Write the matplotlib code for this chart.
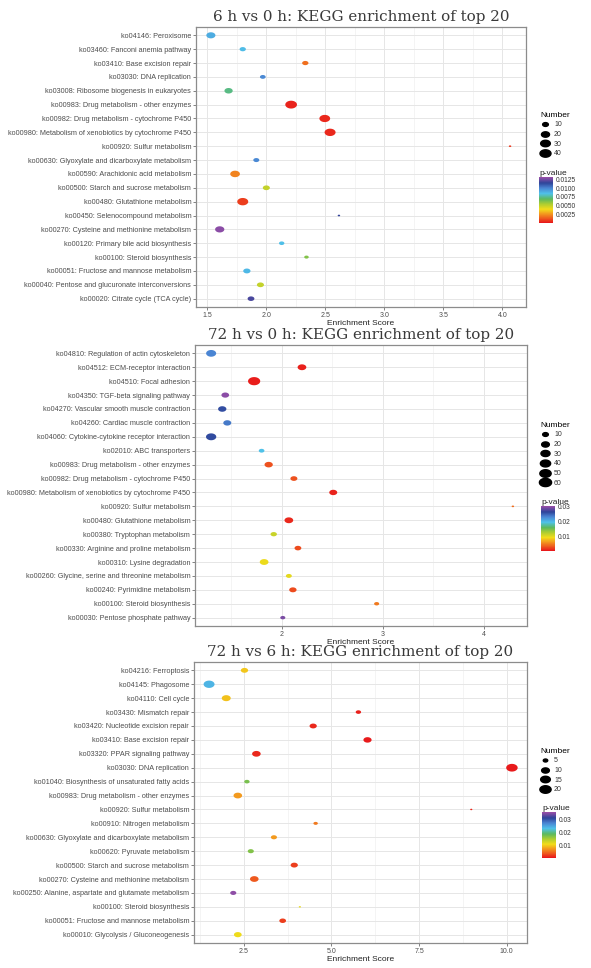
import numpy as np
import matplotlib
matplotlib.use('Agg')
import matplotlib.pyplot as plt
from matplotlib.colors import LinearSegmentedColormap, Normalize
from matplotlib.path import Path
from matplotlib.lines import Line2D
from matplotlib.cm import ScalarMappable

W, H = 591, 968

# ---------------- data ----------------
p1_title = "6 h vs 0 h: KEGG enrichment of top 20"
p1_terms = ["ko04146: Peroxisome", "ko03460: Fanconi anemia pathway", "ko03410: Base excision repair",
            "ko03030: DNA replication", "ko03008: Ribosome biogenesis in eukaryotes",
            "ko00983: Drug metabolism - other enzymes", "ko00982: Drug metabolism - cytochrome P450",
            "ko00980: Metabolism of xenobiotics by cytochrome P450", "ko00920: Sulfur metabolism",
            "ko00630: Glyoxylate and dicarboxylate metabolism", "ko00590: Arachidonic acid metabolism",
            "ko00500: Starch and sucrose metabolism", "ko00480: Glutathione metabolism",
            "ko00450: Selenocompound metabolism", "ko00270: Cysteine and methionine metabolism",
            "ko00120: Primary bile acid biosynthesis", "ko00100: Steroid biosynthesis",
            "ko00051: Fructose and mannose metabolism", "ko00040: Pentose and glucuronate interconversions",
            "ko00020: Citrate cycle (TCA cycle)"]
p1_score = [1.53, 1.80, 2.33, 1.97, 1.68, 2.21, 2.495, 2.54, 4.065, 1.915,
            1.735, 2.00, 1.80, 2.615, 1.605, 2.13, 2.34, 1.835, 1.95, 1.87]
p1_number = [26, 12, 12, 10, 21, 46, 38, 40, 5, 11,
             30, 15, 40, 5, 27, 9, 7, 16, 15, 14]
p1_pvalue = [0.0090, 0.0086, 0.0018, 0.0099, 0.0073, 0.0003, 0.0004, 0.0004, 0.0007, 0.0099,
             0.0022, 0.0050, 0.0008, 0.0116, 0.0129, 0.0085, 0.0062, 0.0087, 0.0050, 0.0119]
p1_xticks = [1.5, 2.0, 2.5, 3.0, 3.5, 4.0]
p1_xticklabels = ["1.5", "2.0", "2.5", "3.0", "3.5", "4.0"]
p1_size_breaks = [10, 20, 30, 40]
p1_p_breaks = [0.0025, 0.0050, 0.0075, 0.0100, 0.0125]
p1_p_labels = ["0.0025", "0.0050", "0.0075", "0.0100", "0.0125"]

p2_title = "72 h vs 0 h: KEGG enrichment of top 20"
p2_terms = ["ko04810: Regulation of actin cytoskeleton", "ko04512: ECM-receptor interaction",
            "ko04510: Focal adhesion", "ko04350: TGF-beta signaling pathway",
            "ko04270: Vascular smooth muscle contraction", "ko04260: Cardiac muscle contraction",
            "ko04060: Cytokine-cytokine receptor interaction", "ko02010: ABC transporters",
            "ko00983: Drug metabolism - other enzymes", "ko00982: Drug metabolism - cytochrome P450",
            "ko00980: Metabolism of xenobiotics by cytochrome P450", "ko00920: Sulfur metabolism",
            "ko00480: Glutathione metabolism", "ko00380: Tryptophan metabolism",
            "ko00330: Arginine and proline metabolism", "ko00310: Lysine degradation",
            "ko00260: Glycine, serine and threonine metabolism", "ko00240: Pyrimidine metabolism",
            "ko00100: Steroid biosynthesis", "ko00030: Pentose phosphate pathway"]
p2_score = [1.30, 2.20, 1.726, 1.44, 1.41, 1.46, 1.30, 1.80, 1.87, 2.12,
            2.51, 4.29, 2.07, 1.92, 2.16, 1.825, 2.07, 2.11, 2.94, 2.01]
p2_number = [38, 27, 60, 20, 24, 22, 40, 10, 24, 16,
             22, 4, 27, 13, 15, 27, 11, 18, 8, 8]
p2_pvalue = [0.0232, 0.0005, 0.0004, 0.0299, 0.0260, 0.0238, 0.0262, 0.0195, 0.0027, 0.0027,
             0.0006, 0.0040, 0.0009, 0.0113, 0.0024, 0.0095, 0.0098, 0.0024, 0.0046, 0.0293]
p2_xticks = [2, 3, 4]
p2_xticklabels = ["2", "3", "4"]
p2_size_breaks = [10, 20, 30, 40, 50, 60]
p2_p_breaks = [0.01, 0.02, 0.03]
p2_p_labels = ["0.01", "0.02", "0.03"]

p3_title = "72 h vs 6 h: KEGG enrichment of top 20"
p3_terms = ["ko04216: Ferroptosis", "ko04145: Phagosome", "ko04110: Cell cycle",
            "ko03430: Mismatch repair", "ko03420: Nucleotide excision repair",
            "ko03410: Base excision repair", "ko03320: PPAR signaling pathway",
            "ko03030: DNA replication", "ko01040: Biosynthesis of unsaturated fatty acids",
            "ko00983: Drug metabolism - other enzymes", "ko00920: Sulfur metabolism",
            "ko00910: Nitrogen metabolism", "ko00630: Glyoxylate and dicarboxylate metabolism",
            "ko00620: Pyruvate metabolism", "ko00500: Starch and sucrose metabolism",
            "ko00270: Cysteine and methionine metabolism",
            "ko00250: Alanine, aspartate and glutamate metabolism",
            "ko00100: Steroid biosynthesis", "ko00051: Fructose and mannose metabolism",
            "ko00010: Glycolysis / Gluconeogenesis"]
p3_score = [2.52, 1.51, 2.00, 5.77, 4.48, 6.03, 2.86, 10.15, 2.59, 2.33,
            8.99, 4.55, 3.36, 2.70, 3.94, 2.80, 2.20, 4.10, 3.61, 2.33]
p3_number = [9, 19, 13, 6, 9, 11, 12, 21, 6, 12,
             4, 5, 7, 7, 9, 12, 7, 4, 8, 10]
p3_pvalue = [0.0097, 0.0240, 0.0094, 0.0007, 0.0010, 0.0004, 0.0010, 0.0004, 0.0173, 0.0072,
             0.0010, 0.0054, 0.0072, 0.0169, 0.0022, 0.0036, 0.0353, 0.0115, 0.0022, 0.0110]
p3_xticks = [2.5, 5.0, 7.5, 10.0]
p3_xticklabels = ["2.5", "5.0", "7.5", "10.0"]
p3_size_breaks = [5, 10, 15, 20]
p3_p_breaks = [0.01, 0.02, 0.03]
p3_p_labels = ["0.01", "0.02", "0.03"]

# ---------------- style ----------------
plt.rcParams['font.family'] = ['Liberation Sans', 'DejaVu Sans']

cmap = LinearSegmentedColormap.from_list('pv', [
    (0.00, '#E8151B'), (0.10, '#EE5A1E'), (0.20, '#F39A1E'), (0.30, '#F2DC1A'),
    (0.42, '#A8CC34'), (0.52, '#5DB95E'), (0.64, '#4FC1E9'), (0.76, '#4A85D3'),
    (0.87, '#2E4499'), (1.00, '#9B4FA8')])

theta = np.linspace(0, 2 * np.pi, 64)
ell = Path(np.column_stack([np.cos(theta), 0.67 * np.sin(theta)]), closed=True)

fig = plt.figure(figsize=(W / 100, H / 100), dpi=100)
fig.patch.set_facecolor('white')


def box(l, t, r, b):
    return [l / W, 1 - b / H, (r - l) / W, (b - t) / H]


def diam(vals, lo, hi, r0, r1):
    v = np.clip((np.asarray(vals, float) - lo) / (hi - lo), 0, 1)
    return r0 + (r1 - r0) * np.sqrt(v)


panels = [
    dict(title=p1_title, terms=p1_terms, score=p1_score, number=p1_number, pvalue=p1_pvalue,
         xticks=p1_xticks, xticklabels=p1_xticklabels, minor=[1.75, 2.25, 2.75, 3.25, 3.75],
         xlim=(1.404, 4.20), axbox=(196, 27, 526, 307), sizes=p1_size_breaks,
         r=(2.5, 11.7), pbreaks=p1_p_breaks, plabels=p1_p_labels, vmax=0.0132,
         leg_y=107, cbar=(539, 177, 553, 223)),
    dict(title=p2_title, terms=p2_terms, score=p2_score, number=p2_number, pvalue=p2_pvalue,
         xticks=p2_xticks, xticklabels=p2_xticklabels, minor=[1.5, 2.5, 3.5],
         xlim=(1.14, 4.43), axbox=(195, 345, 527, 626), sizes=p2_size_breaks,
         r=(2.5, 12.2), pbreaks=p2_p_breaks, plabels=p2_p_labels, vmax=0.0305,
         leg_y=417, cbar=(541, 506, 555, 551)),
    dict(title=p3_title, terms=p3_terms, score=p3_score, number=p3_number, pvalue=p3_pvalue,
         xticks=p3_xticks, xticklabels=p3_xticklabels, minor=[1.25, 3.75, 6.25, 8.75],
         xlim=(1.08, 10.58), axbox=(194, 662, 527, 943), sizes=p3_size_breaks,
         r=(2.2, 11.5), pbreaks=p3_p_breaks, plabels=p3_p_labels, vmax=0.036,
         leg_y=743, cbar=(542, 812, 556, 858)),
]

grey_txt = '#4D4D4D'
for P in panels:
    ax = fig.add_axes(box(*P['axbox']))
    n = len(P['terms'])
    y = np.arange(n, 0, -1)
    lo, hi = min(P['number']), max(P['number'])
    r0, r1 = P['r']
    dpx = diam(P['number'], lo, hi, r0, r1)
    norm = Normalize(0, P['vmax'])
    ax.scatter(P['score'], y, s=(dpx * 0.72) ** 2, c=P['pvalue'], cmap=cmap, norm=norm,
               marker=ell, linewidths=0, zorder=3)
    ax.set_xlim(*P['xlim'])
    ax.set_ylim(0.4, n + 0.6)
    ax.set_yticks(y)
    ax.set_yticklabels(P['terms'], fontsize=5.2, color=grey_txt)
    ax.set_xticks(P['xticks'])
    ax.set_xticklabels(P['xticklabels'], fontsize=5, color=grey_txt)
    ax.set_xticks(P['minor'], minor=True)
    ax.tick_params(which='major', length=2, width=0.6, color='#6E6E6E', pad=1.5)
    ax.tick_params(which='minor', length=0)
    ax.grid(True, which='major', color='#E6E6E6', linewidth=0.7, zorder=0)
    ax.grid(True, which='minor', axis='x', color='#F0F0F0', linewidth=0.5, zorder=0)
    ax.set_axisbelow(True)
    for s in ax.spines.values():
        s.set_color('#8C8C8C')
        s.set_linewidth(0.9)
    ax.set_xlabel('Enrichment Score', fontsize=6, color='#222222', labelpad=1)
    ax.set_title(P['title'], fontsize=10.9, family='DejaVu Serif', color='#3A3A3A', pad=4)

    # size legend
    ld = diam(P['sizes'], lo, hi, r0, r1)
    handles = [Line2D([], [], ls='', marker=ell, color='black', markersize=d * 0.72) for d in ld]
    leg = fig.legend(handles, [str(v) for v in P['sizes']], title='Number',
                     loc='upper left', bbox_to_anchor=(536 / W, 1 - P['leg_y'] / H),
                     frameon=False, fontsize=5, title_fontsize=6, labelspacing=0.38,
                     handlelength=1.3, handletextpad=0.6, borderpad=0.2)
    leg._legend_box.align = 'left'
    for t in leg.get_texts():
        t.set_color('#333333')

    # colorbar
    l, t, r, bt = P['cbar']
    cax = fig.add_axes(box(l, t, r, bt))
    cb = fig.colorbar(ScalarMappable(norm=norm, cmap=cmap), cax=cax)
    cb.set_ticks(P['pbreaks'])
    cb.set_ticklabels(P['plabels'])
    cb.outline.set_visible(False)
    cax.tick_params(length=0, labelsize=4.8, pad=2, labelcolor='#333333')
    cax.set_title('p-value', fontsize=6, loc='left', pad=1.5, color='#222222')

fig.savefig('out.png', dpi=100, facecolor='white')
